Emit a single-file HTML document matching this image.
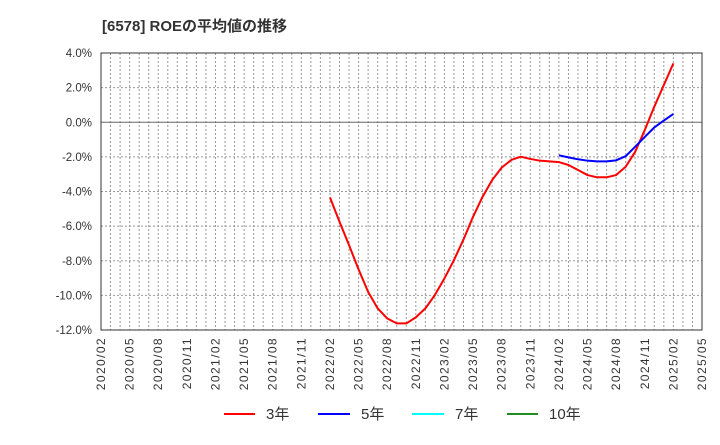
<!DOCTYPE html>
<html><head><meta charset="utf-8"><style>
body{margin:0;background:#fff;font-family:"Liberation Sans","Noto Sans CJK JP",sans-serif;}
svg text{font-family:"Liberation Sans","Noto Sans CJK JP",sans-serif;}
</style></head><body>
<svg id="c" width="720" height="440" xmlns="http://www.w3.org/2000/svg">
<text x="102" y="31" font-size="15" font-weight="bold" fill="#333">[6578]  ROEの平均値の推移</text>
<g id="grid"></g><g id="axes"></g><g id="series"></g>
<g font-size="15" fill="#333">
<g><line x1="224" y1="414" x2="255" y2="414" stroke="#ff0000" stroke-width="2"/><text x="266" y="419">3年</text></g>
<g><line x1="318" y1="414" x2="350" y2="414" stroke="#0000ff" stroke-width="2"/><text x="361" y="419">5年</text></g>
<g><line x1="412" y1="414" x2="444" y2="414" stroke="#00ffff" stroke-width="2"/><text x="455" y="419">7年</text></g>
<g><line x1="507" y1="414" x2="538" y2="414" stroke="#228b22" stroke-width="2"/><text x="549" y="419">10年</text></g>
</g>
</svg>
<script>
const xTickLabels=["2020/02","2020/05","2020/08","2020/11","2021/02","2021/05","2021/08","2021/11","2022/02","2022/05","2022/08","2022/11","2023/02","2023/05","2023/08","2023/11","2024/02","2024/05","2024/08","2024/11","2025/02","2025/05"];
const yTicks=[4,2,0,-2,-4,-6,-8,-10,-12];
const roe3Start=24;
const roe3=[-4.34,-5.75,-7.1,-8.5,-9.8,-10.75,-11.33,-11.62,-11.62,-11.27,-10.75,-9.98,-9.02,-7.96,-6.77,-5.46,-4.3,-3.34,-2.62,-2.18,-1.99,-2.12,-2.22,-2.26,-2.3,-2.47,-2.76,-3.05,-3.18,-3.18,-3.05,-2.57,-1.7,-0.45,0.9,2.15,3.4];
const roe5Start=48;
const roe5=[-1.91,-2.03,-2.14,-2.22,-2.26,-2.26,-2.2,-1.96,-1.41,-0.85,-0.3,0.1,0.48];
const NS="http://www.w3.org/2000/svg";
const X0=101,X1=702,Y0=53,Y1=330,NM=63;
const xs=i=>X0+(X1-X0)*i/NM;
const ys=v=>Y0+(4-v)/16*(Y1-Y0);
function mk(t,a,p){const e=document.createElementNS(NS,t);for(const k in a)e.setAttribute(k,a[k]);p.appendChild(e);return e;}
const grid=document.getElementById('grid'),axes=document.getElementById('axes'),ser=document.getElementById('series');
for(let i=1;i<NM;i++){const l=mk('line',{x1:xs(i),x2:xs(i),y1:Y0,y2:Y1,stroke:'#999','stroke-dasharray':'2,2','stroke-width':1},grid);

}
yTicks.forEach(v=>{const y=ys(v);
if(v!==4&&v!==-12){const l=mk('line',{x1:X0,x2:X1,y1:y,y2:y,stroke:v===0?'#666':'#999','stroke-dasharray':v===0?'':'2,2','stroke-width':1},grid);

}
const t=mk('text',{x:92,y:y+4,'text-anchor':'end','font-size':11.5,fill:'#333'},axes);t.textContent=v.toFixed(1)+'%';

});
const r=mk('rect',{x:X0,y:Y0,width:X1-X0,height:Y1-Y0,fill:'none',stroke:'#333','stroke-width':1},axes);


xTickLabels.forEach((s,k)=>{const x=xs(k*3)+4;const t=mk('text',{x:x,y:337,'text-anchor':'end','font-size':12,'letter-spacing':1.4,fill:'#333',transform:`rotate(-90 ${x} 337)`},axes);t.textContent=s;

});
function line(d,s,c,n){const p=mk('polyline',{points:d.map((v,i)=>xs(s+i)+','+ys(v)).join(' '),fill:'none',stroke:c,'stroke-width':2,'stroke-linejoin':'round'},ser);

}
line(roe3,roe3Start,'#ff0000','series-3y');
line(roe5,roe5Start,'#0000ff','series-5y');
</script>
</body></html>
